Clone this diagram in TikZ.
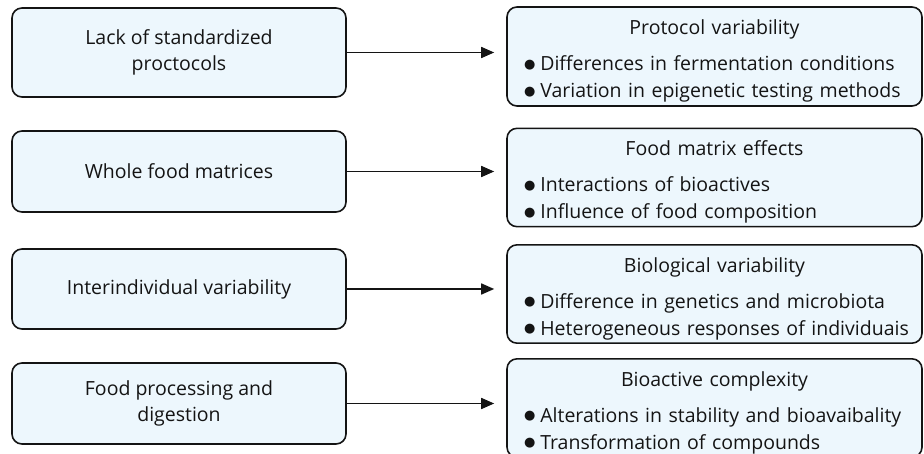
\documentclass[tikz,border=0pt]{standalone}
\usepackage{fontspec}
\setmainfont{Open Sans}
\newfontfamily\symbolfont{DejaVu Sans}
\usepackage{xcolor}
\usetikzlibrary{arrows.meta, positioning}
\definecolor{BoxFill}{HTML}{EDF7FD}
\definecolor{LineDark}{HTML}{141414}
\tikzset{
  causebox/.style={draw=LineDark, fill=BoxFill, line width=1.6pt, rounded corners=10pt, minimum width=334pt, align=center, text=LineDark, font=\fontsize{19.5}{26}\selectfont},
  effectbox/.style={draw=LineDark, fill=BoxFill, line width=1.6pt, rounded corners=10pt, minimum width=415pt, inner xsep=17pt, text width=381pt, align=left, text=LineDark, font=\fontsize{19.5}{27}\selectfont},
  link/.style={draw=LineDark, line width=1.6pt, -{Triangle[length=13pt, width=11pt]}, shorten >=12pt}
}
\newcommand{\boxtitle}[1]{\makebox[\linewidth]{\rule{0pt}{24pt}#1}\\[9pt]}
\newcommand{\bulletline}[1]{\mbox{{\symbolfont\fontsize{13}{13}\selectfont\raisebox{2.5pt}{●}}\hspace{5pt}#1}}
\begin{document}
\begin{tikzpicture}[x=1pt, y=-1pt]
      \useasboundingbox (0,0) rectangle (924,454);
      % causes
      \node[causebox, minimum height=89pt] (lack) at (179,52.5) {Lack of standardized\\proctocols};
      \node[causebox, minimum height=81pt] (whole) at (179,171.5) {Whole food matrices};
      \node[causebox, minimum height=80pt] (inter) at (179,289) {Interindividual variability};
      \node[causebox, minimum height=81pt] (proc) at (179,403.5) {Food processing and\\digestion};

      % effects
      \node[effectbox, minimum height=99pt] (protvar) at (714.5,56.5) {\boxtitle{Protocol variability}\bulletline{Differences in fermentation conditions}\\\bulletline{Variation in epigenetic testing methods}};
      \node[effectbox, minimum height=91pt] (matrix) at (714.5,177.5) {\boxtitle{Food matrix effects}\bulletline{Interactions of bioactives}\\\bulletline{Influence of food composition}};
      \node[effectbox, minimum height=92pt] (biovar) at (714.5,294) {\boxtitle{Biological variability}\bulletline{Difference in genetics and microbiota}\\\bulletline{Heterogeneous responses of individuais}};
      \node[effectbox, minimum height=90pt] (complex) at (714.5,408) {\boxtitle{Bioactive complexity}\bulletline{Alterations in stability and bioavaibality}\\\bulletline{Transformation of compounds}};

      \draw[link] (lack.east) -- (lack.east -| protvar.west);
      \draw[link] (whole.east) -- (whole.east -| matrix.west);
      \draw[link] (inter.east) -- (inter.east -| biovar.west);
      \draw[link] (proc.east) -- (proc.east -| complex.west);
\end{tikzpicture}
\end{document}
